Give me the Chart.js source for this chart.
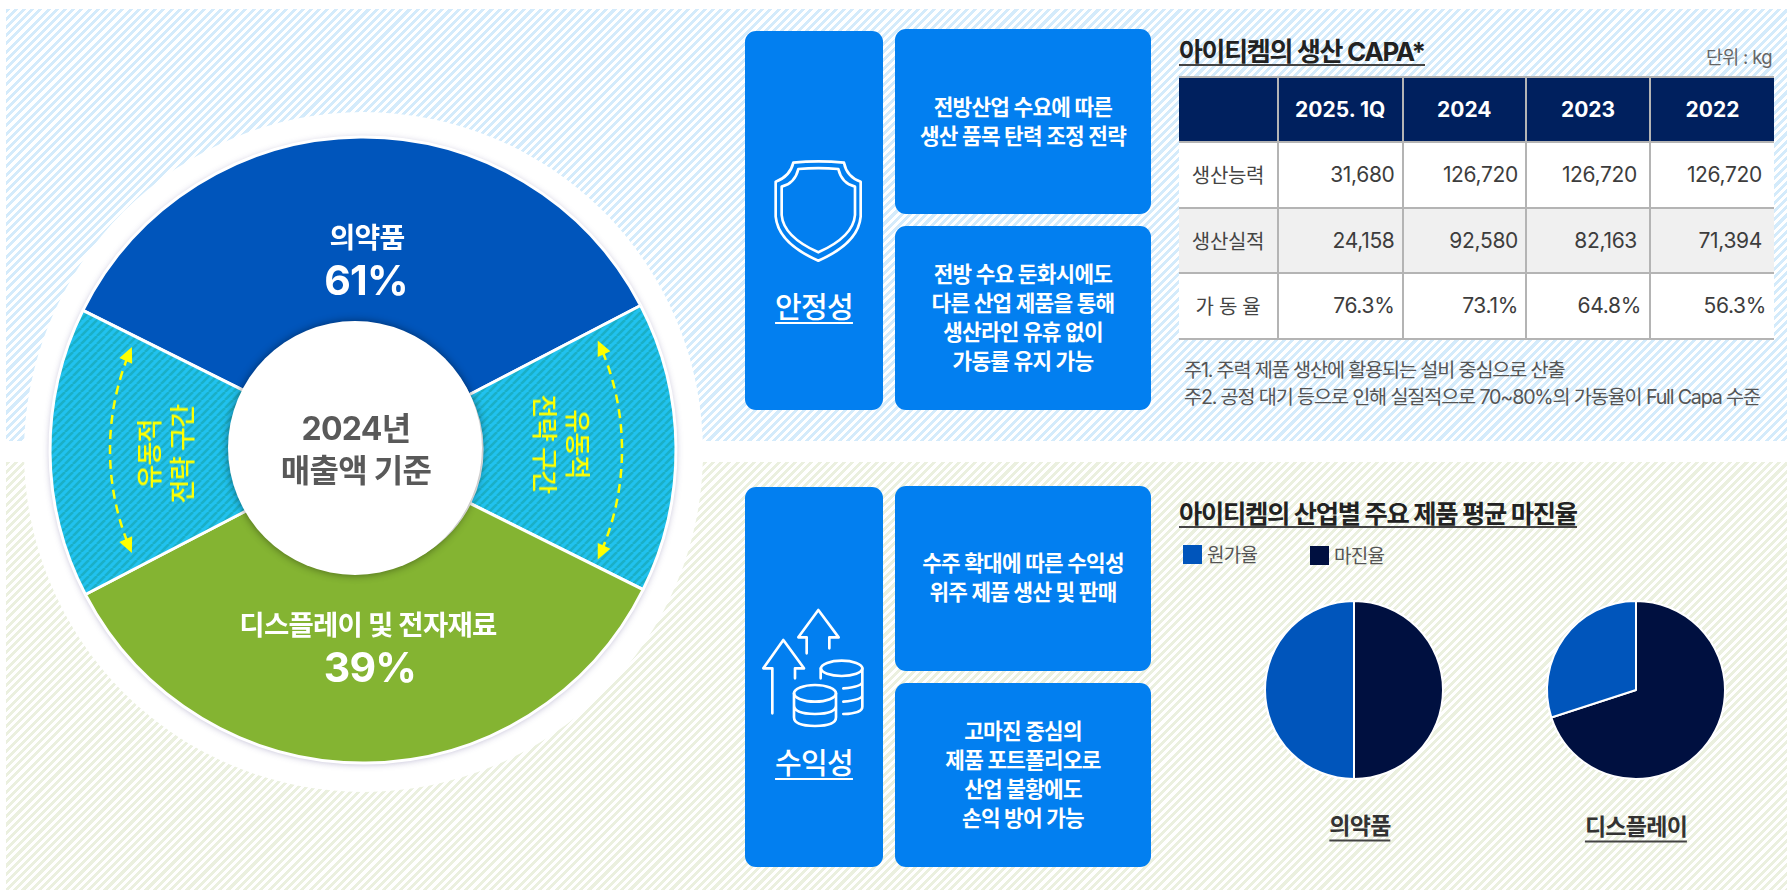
<!DOCTYPE html>
<html lang="ko">
<head>
<meta charset="utf-8">
<script src="https://cdn.jsdelivr.net/npm/chart.js@4"></script>
<style>
html, body { margin: 0; padding: 0; background: #fff; }
#page { position: relative; width: 1787px; height: 890px; overflow: hidden; font-family: Inter, "Noto Sans CJK KR", "Noto Sans", sans-serif; letter-spacing: -0.045em; }
#page > * { position: absolute; }
.band-top { left: 6px; top: 9px; width: 1781px; height: 432px; background: repeating-linear-gradient(135deg, #d4ebfb 0 2.9px, #fff 2.9px 5.8px); }
.band-bottom { left: 6px; top: 462px; width: 1781px; height: 428px; background: repeating-linear-gradient(135deg, #ebf0df 0 2.9px, #fff 2.9px 5.8px); }
.ring { left: 24px; top: 112px; width: 679px; height: 680px; border-radius: 50%; background: #fff; }
.pie-shadow { left: 50px; top: 137px; width: 626px; height: 626px; border-radius: 50%; box-shadow: 0 1px 7px rgba(70, 60, 130, .4); }
.hole { left: 228px; top: 321px; width: 254px; height: 254px; border-radius: 50%; background: #fff; box-shadow: 0 0 8px rgba(0, 0, 0, .45); }
.t { transform: translate(-50%, -50%); white-space: nowrap; text-align: center; }
.box { background: #027ff0; border-radius: 11px; }
.boxtext { color: #fff; font-size: 21.3px; font-weight: 700; line-height: 29px; }
.head { color: #fff; font-size: 29px; font-weight: 500; text-decoration: underline; text-decoration-thickness: 2px; text-underline-offset: 4px; }
.title { color: #222; font-size: 25.3px; font-weight: 700; border-bottom: 2px solid #444; padding-top: 3px; line-height: 25px; white-space: nowrap; letter-spacing: -0.05em; }
.side { color: #ffff00; font-size: 26px; font-weight: 500; line-height: 33px; }
.sub { color: #333; font-size: 23px; font-weight: 700; border-bottom: 2px solid #444; line-height: 27px; }
.legend-box { width: 19px; height: 19px; }
.legend-text { color: #555; font-size: 19px; line-height: 20px; }
.note { color: #555; font-size: 19.7px; line-height: 26.5px; white-space: nowrap; letter-spacing: -0.06em; }
table { left: 1179px; top: 76px; width: 595px; height: 263px; border-collapse: collapse; table-layout: fixed; background: #fff; letter-spacing: -0.02em; }
th, td { border: 2px solid #b4b4b4; padding: 0; }
tr > :first-child { border-left: 0; }
tr > :last-child { border-right: 0; }
th { background: #00205e; color: #fff; font-size: 21px; font-weight: 700; letter-spacing: 0; }
td { color: #3d3d3d; font-size: 21px; text-align: right; }
td.rowhead { text-align: center; font-size: 20px; color: #444; }
tr.alt td { background: #f0f0f0; }
</style>
</head>
<body>
<div id="page">
  <div class="band-top"></div>
  <div class="band-bottom"></div>
  <div class="ring"></div>
  <div class="pie-shadow"></div>
  <canvas id="share_chart" width="660" height="660" style="left:33px;top:120px"></canvas>
  <div class="hole"></div>

  <div class="t" id="share_a" style="left:367px;top:236px;color:#fff;font-size:28px;font-weight:700"></div>
  <div class="t" id="share_a_pct" style="left:366px;top:280px;color:#fff;font-size:41px;font-weight:700;letter-spacing:-0.02em"></div>
  <div class="t" id="share_b" style="left:368px;top:623px;color:#fff;font-size:27.5px;font-weight:700"></div>
  <div class="t" id="share_b_pct" style="left:370px;top:667px;color:#fff;font-size:41px;font-weight:700;letter-spacing:-0.02em"></div>
  <div class="t" style="left:356px;top:426px;color:#595959;font-size:32px;font-weight:700">2024년</div>
  <div class="t" style="left:356px;top:468px;color:#595959;font-size:32px;font-weight:700">매출액 기준</div>

  <div class="t side" style="left:166px;top:454px;transform:translate(-50%,-50%) rotate(-90deg)">유동적<br>전략 구간</div>
  <div class="t side" style="left:561px;top:444px;transform:translate(-50%,-50%) rotate(90deg)">유동적<br>전략 구간</div>

  <!-- top row boxes -->
  <div class="box" style="left:745px;top:31px;width:138px;height:379px"></div>
  <div class="box" style="left:895px;top:29px;width:256px;height:185px"></div>
  <div class="box" style="left:895px;top:226px;width:256px;height:184px"></div>
  <svg style="left:730px;top:20px" width="440" height="400" viewBox="0 0 1320 1200" fill="none" stroke="#fff" stroke-width="8" stroke-linejoin="round">
    <path d="M190 428 Q265 420 342 428 Q350 470 392 485 L392 590 Q385 670 265 722 Q145 670 137 590 L137 485 Q180 470 190 428 Z"/>
    <path d="M205 447 Q265 442 325 447 Q335 490 375 500 L375 585 Q370 650 265 697 Q160 650 155 585 L155 500 Q195 490 205 447 Z"/>
  </svg>
  <div class="t head" style="left:814px;top:305px">안정성</div>
  <div class="t boxtext" style="left:1023px;top:122px">전방산업 수요에 따른<br>생산 품목 탄력 조정 전략</div>
  <div class="t boxtext" style="left:1023px;top:318px">전방 수요 둔화시에도<br>다른 산업 제품을 통해<br>생산라인 유휴 없이<br>가동률 유지 가능</div>

  <!-- bottom row boxes -->
  <div class="box" style="left:745px;top:487px;width:138px;height:380px"></div>
  <div class="box" style="left:895px;top:486px;width:256px;height:185px"></div>
  <div class="box" style="left:895px;top:683px;width:256px;height:184px"></div>
  <svg style="left:730px;top:480px" width="440" height="400" viewBox="0 0 1320 1200" fill="none" stroke="#fff" stroke-width="8" stroke-linecap="round" stroke-linejoin="round">
    <path d="M127 700 L127 565 L100 565 L160 480 L222 565 L195 565 L195 595"/>
    <path d="M230 520 L230 472 L205 472 L265 390 L326 472 L298 472 L298 505"/>
    <ellipse cx="335" cy="565" rx="62" ry="23"/>
    <path d="M272 565 L272 595 M397 565 L397 680 Q397 700 340 702 M340 625 Q397 620 397 605 M340 665 Q397 660 397 645"/>
    <ellipse cx="255" cy="640" rx="63" ry="25"/>
    <path d="M192 640 L192 712 Q192 738 255 738 Q318 738 318 712 L318 640 M192 676 Q192 702 255 702 Q318 702 318 676"/>
  </svg>
  <div class="t head" style="left:814px;top:761px">수익성</div>
  <div class="t boxtext" style="left:1023px;top:578px">수주 확대에 따른 수익성<br>위주 제품 생산 및 판매</div>
  <div class="t boxtext" style="left:1023px;top:775px">고마진 중심의<br>제품 포트폴리오로<br>산업 불황에도<br>손익 방어 가능</div>

  <!-- capa table -->
  <div class="title" style="left:1179px;top:36px;font-size:26px">아이티켐의 생산 CAPA*</div>
  <div style="left:1706px;top:45px;color:#666;font-size:18.5px;line-height:24px;white-space:nowrap">단위 : kg</div>
  <table id="capa_table"></table>
  <div class="note" style="left:1184px;top:357px">주1. 주력 제품 생산에 활용되는 설비 중심으로 산출<br>주2. 공정 대기 등으로 인해 실질적으로 70~80%의 가동율이 Full Capa 수준</div>

  <!-- margin pies -->
  <div class="title" style="left:1179px;top:498px">아이티켐의 산업별 주요 제품 평균 마진율</div>
  <div class="legend-box" style="left:1183px;top:545px;background:#0055bb"></div>
  <div class="legend-text" id="legend_cost" style="left:1207px;top:546px"></div>
  <div class="legend-box" style="left:1310px;top:546px;background:#001040"></div>
  <div class="legend-text" id="legend_margin" style="left:1334px;top:547px"></div>
  <canvas id="pharma_chart" width="200" height="200" style="left:1254px;top:590px"></canvas>
  <canvas id="display_chart" width="200" height="200" style="left:1536px;top:590px"></canvas>
  <div class="t sub" id="pharma_label" style="left:1360px;top:827px"></div>
  <div class="t sub" id="display_label" style="left:1636px;top:828px"></div>
</div>

<script>
// revenue share of the big doughnut (the two flexible zones sit between the main slices)
const shareLabels = ['의약품', '유동적 전략 구간', '디스플레이 및 전자재료', '유동적 전략 구간'];
const shareValues = [35, 15, 35, 15];
const sharePercents = ['61%', '39%'];

// capa table
const tableYears = ['2025. 1Q', '2024', '2023', '2022'];
const capacity = ['31,680', '126,720', '126,720', '126,720'];
const production = ['24,158', '92,580', '82,163', '71,394'];
const utilization = ['76.3%', '73.1%', '64.8%', '56.3%'];

// margin pies, margin first because it starts at 12 o'clock
const marginLabels = ['마진율', '원가율'];
const pharmaValues = [50, 50];
const displayValues = [70, 30];
const pieNames = ['의약품', '디스플레이'];

const BLUE = '#0055bb';
const NAVY = '#001040';
const GREEN = '#84b432';

// striped fill of the flexible zones
function getStripePattern() {
    const tile = document.createElement('canvas');
    tile.width = 8;
    tile.height = 8;
    const c = tile.getContext('2d');
    c.fillStyle = '#21c2ef';
    c.fillRect(0, 0, 8, 8);
    c.strokeStyle = '#1bafc6';
    c.lineWidth = 2.6;
    for (let i = -8; i <= 16; i += 8) {
        c.beginPath();
        c.moveTo(i, 8);
        c.lineTo(i + 8, 0);
        c.stroke();
    }
    return c.createPattern(tile, 'repeat');
}
const stripes = getStripePattern();

// dashed yellow arcs with a head on both ends
function drawArrowHead(ctx, x, y, angle) {
    ctx.save();
    ctx.translate(x, y);
    ctx.rotate(angle);
    ctx.beginPath();
    ctx.moveTo(0, 0);
    ctx.lineTo(-15, -7);
    ctx.lineTo(-15, 7);
    ctx.closePath();
    ctx.fill();
    ctx.restore();
}
function drawFlexArc(chart, radius, from, to) {
    const ctx = chart.ctx;
    const center = chart.getDatasetMeta(0).data[0];
    const a = from * Math.PI / 180;
    const b = to * Math.PI / 180;
    const pad = 12 / radius;
    ctx.save();
    ctx.strokeStyle = '#ffff00';
    ctx.fillStyle = '#ffff00';
    ctx.lineWidth = 2.5;
    ctx.setLineDash([9, 6]);
    ctx.beginPath();
    ctx.arc(center.x, center.y, radius, a + pad, b - pad);
    ctx.stroke();
    ctx.setLineDash([]);
    drawArrowHead(ctx, center.x + radius * Math.cos(a), center.y + radius * Math.sin(a), a - Math.PI / 2);
    drawArrowHead(ctx, center.x + radius * Math.cos(b), center.y + radius * Math.sin(b), b + Math.PI / 2);
    ctx.restore();
}
const flexArrows = {
    id: 'flexArrows',
    afterDatasetsDraw(chart) {
        drawFlexArc(chart, 259, -25, 25);
        drawFlexArc(chart, 253, 156, 204);
    }
};

// Creates big doughnut
new Chart(document.getElementById('share_chart'), {
    type: 'doughnut',
    data: {
        labels: shareLabels,
        datasets: [{
            data: shareValues,
            backgroundColor: [BLUE, stripes, GREEN, stripes],
            borderColor: '#fff',
            borderWidth: 3,
        }]
    },
    options: {
        responsive: false,
        animation: false,
        radius: 313,
        cutout: 125,
        rotation: -63.5,
        plugins: { legend: { display: false }, tooltip: { enabled: false } }
    },
    plugins: [flexArrows]
});

// Creates the two margin pies
function makePie(id, values) {
    new Chart(document.getElementById(id), {
        type: 'pie',
        data: {
            labels: marginLabels,
            datasets: [{
                data: values,
                backgroundColor: [NAVY, BLUE],
                borderColor: '#fff',
                borderWidth: 2,
            }]
        },
        options: {
            responsive: false,
            animation: false,
            radius: 89,
            plugins: { legend: { display: false }, tooltip: { enabled: false } }
        }
    });
}
makePie('pharma_chart', pharmaValues);
makePie('display_chart', displayValues);

// fills the text that comes from the arrays
document.getElementById('share_a').textContent = shareLabels[0];
document.getElementById('share_a_pct').textContent = sharePercents[0];
document.getElementById('share_b').textContent = shareLabels[2];
document.getElementById('share_b_pct').textContent = sharePercents[1];
document.getElementById('legend_cost').textContent = marginLabels[1];
document.getElementById('legend_margin').textContent = marginLabels[0];
document.getElementById('pharma_label').textContent = pieNames[0];
document.getElementById('display_label').textContent = pieNames[1];

// builds the capa table
function getTableRow(name, cells, pads, rowClass) {
    const tds = cells.map((c, i) => `<td style="padding-right:${pads[i]}px">${c}</td>`).join('');
    return `<tr class="${rowClass}" style="height:65.5px"><td class="rowhead">${name}</td>${tds}</tr>`;
}
document.getElementById('capa_table').innerHTML =
    '<colgroup><col style="width:99px"><col style="width:124.5px"><col style="width:123.5px"><col style="width:124px"><col style="width:124px"></colgroup>' +
    '<tr style="height:65px"><th></th>' + tableYears.map(y => `<th>${y}</th>`).join('') + '</tr>' +
    getTableRow('생산능력', capacity, [7, 7, 12, 12], '') +
    getTableRow('생산실적', production, [7, 7, 12, 12], 'alt') +
    getTableRow('가 동 율', utilization, [7, 7, 8, 8], '');
</script>
</body>
</html>
